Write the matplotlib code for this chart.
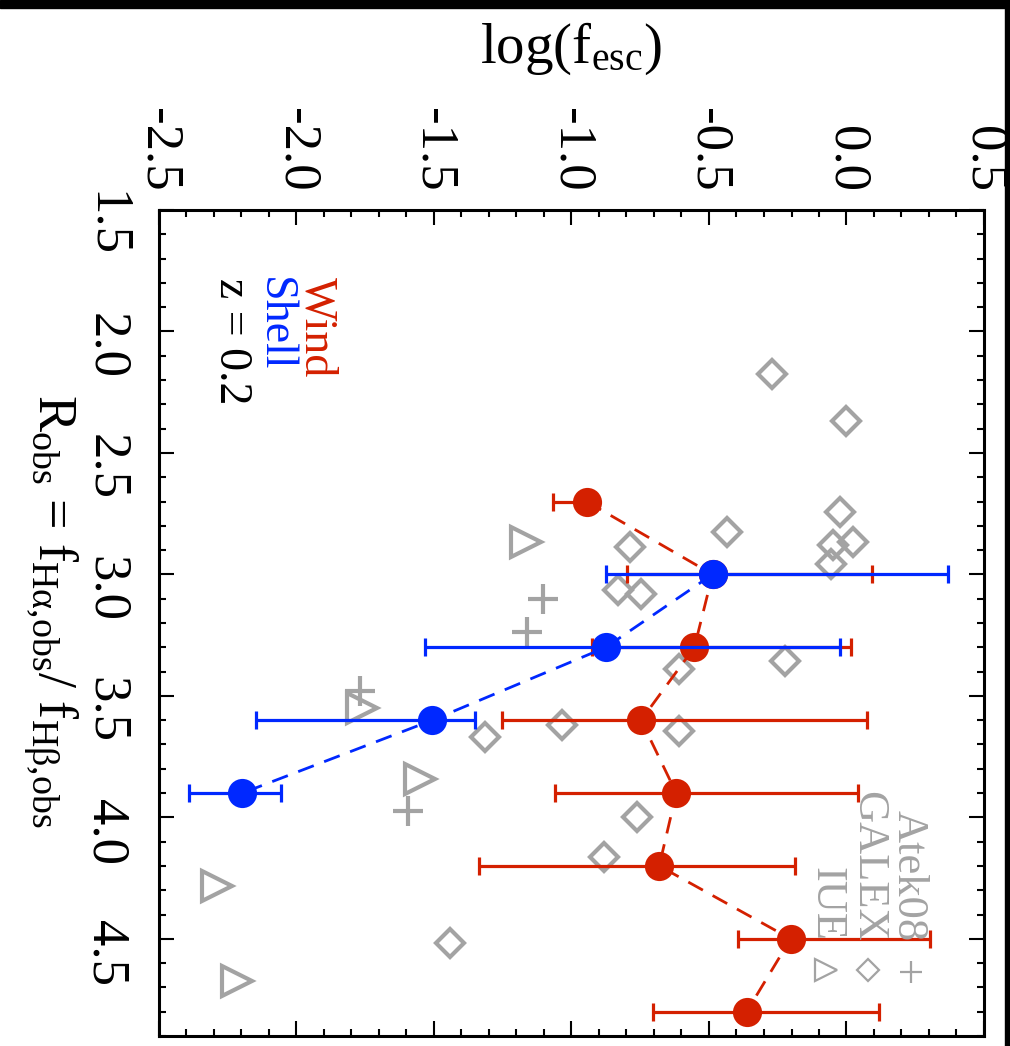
import matplotlib
matplotlib.use("Agg")
import matplotlib.pyplot as plt
from matplotlib.patches import Rectangle
from matplotlib.ticker import MultipleLocator

plt.rcParams['font.family'] = ['Liberation Serif', 'DejaVu Serif']
plt.rcParams['mathtext.fontset'] = 'custom'
plt.rcParams['mathtext.rm'] = 'Liberation Serif'
plt.rcParams['mathtext.it'] = 'Liberation Serif:italic'

RED = '#d42000'
BLUE = '#0028ff'
GRAY = '#a3a3a3'

# wind model (red)
wind_R = [2.7, 3.0, 3.3, 3.6, 3.9, 4.2, 4.5, 4.8]
wind_f = [-0.945, -0.487, -0.553, -0.747, -0.619, -0.681, -0.203, -0.363]
wind_lo = [0.121, 0.31, 0.374, 0.507, 0.441, 0.654, 0.19, 0.339]
wind_hi = [0.0, 0.58, 0.568, 0.82, 0.66, 0.494, 0.507, 0.482]

# shell model (blue)
shell_R = [3.0, 3.3, 3.6, 3.9]
shell_f = [-0.487, -0.875, -1.506, -2.197]
shell_lo = [0.388, 0.658, 0.641, 0.194]
shell_hi = [0.857, 0.851, 0.155, 0.141]

# observations
atek_R = [3.100, 3.236, 3.480, 3.973]
atek_f = [-1.103, -1.160, -1.769, -1.593]

galex_R = [2.174, 2.370, 2.744, 2.866, 2.877, 2.959, 2.825, 2.886, 3.065,
           3.080, 3.356, 3.391, 3.620, 3.644, 4.000, 4.162, 3.671, 4.518]
galex_f = [-0.270, 0.000, -0.024, 0.025, -0.048, -0.058, -0.433, -0.787, -0.830,
           -0.749, -0.224, -0.609, -1.033, -0.609, -0.763, -0.881, -1.315, -1.442]

iue_R = [2.866, 3.548, 3.843, 4.284, 4.672]
iue_f = [-1.165, -1.761, -1.550, -2.289, -2.217]

W, H = 1010, 1046
fig = plt.figure(figsize=(W / 100, H / 100), dpi=100)
ax = fig.add_axes([159 / W, 1 - 1036 / H, 825 / W, 826 / H])

def px(x, y):
    # pixel position -> axes fraction
    return (x - 159) / 825, 1 - (y - 210) / 826

# gray observational points
ax.plot(atek_f, atek_R, ls='none', marker='+', ms=21, mew=3, color=GRAY, zorder=2)
ax.plot(galex_f, galex_R, ls='none', marker='D', ms=14.5, mew=3, mfc='none', mec=GRAY, zorder=2)
ax.plot(iue_f, iue_R, ls='none', marker='>', ms=21, mew=3, mfc='none', mec=GRAY, zorder=2)

# wind
ax.errorbar(wind_f, wind_R, xerr=[wind_lo, wind_hi], fmt='none', ecolor=RED,
            elinewidth=2.3, capsize=6.5, capthick=2.3, zorder=3)
ax.plot(wind_f, wind_R, color=RED, lw=2, dashes=(6, 4), zorder=3)
ax.plot(wind_f, wind_R, ls='none', marker='o', ms=21, mew=0, color=RED, zorder=4)

# shell
ax.errorbar(shell_f, shell_R, xerr=[shell_lo, shell_hi], fmt='none', ecolor=BLUE,
            elinewidth=2.3, capsize=6.5, capthick=2.3, zorder=5)
ax.plot(shell_f, shell_R, color=BLUE, lw=2, dashes=(6, 4), zorder=5)
ax.plot(shell_f, shell_R, ls='none', marker='o', ms=21, mew=0, color=BLUE, zorder=6)

ax.set_xlim(-2.5, 0.5)
ax.set_ylim(4.9, 1.5)
ax.xaxis.set_major_locator(MultipleLocator(0.5))
ax.xaxis.set_minor_locator(MultipleLocator(0.1))
ax.yaxis.set_major_locator(MultipleLocator(0.5))
ax.yaxis.set_minor_locator(MultipleLocator(0.1))
ax.xaxis.set_major_formatter(lambda v, p: f"{v:.1f}".replace('-0.0', '0.0'))
ax.yaxis.set_major_formatter(lambda v, p: f"{v:.1f}")
ax.tick_params(which='both', direction='in', top=True, bottom=True, left=True, right=True,
               labeltop=True, labelbottom=False, labelleft=True, labelright=False,
               width=1.5, labelsize=38)
ax.tick_params(which='major', length=11)
ax.tick_params(which='minor', length=5)
ax.tick_params(axis='x', labelrotation=-90, pad=13)
ax.tick_params(axis='y', labelrotation=-90, pad=21)
for s in ax.spines.values():
    s.set_linewidth(2.2)

fig.text(571 / W, 1 - 63 / H, r"log(f$_{\rm esc}$)", fontsize=41, ha='center', va='baseline')
fig.text(50 / W, 1 - 611 / H, r"R$_{\rm obs}$ = f$_{\rm H\alpha{,}obs}$/ f$_{\rm H\beta{,}obs}$",
         fontsize=39, rotation=-90, ha='center', va='center')

# model legend
for label, color, (x, y) in [("Wind", RED, (305, 277)), ("Shell", BLUE, (263, 277)),
                             ("z = 0.2", 'black', (220, 278))]:
    ax.text(*px(x, y), label, color=color, fontsize=33, rotation=-90,
            rotation_mode='anchor', ha='left', va='baseline', transform=ax.transAxes)

# observation legend
for label, (x, y) in [("Atek08", (898, 941)), ("GALEX", (857, 942)), ("IUE", (815, 941))]:
    ax.text(*px(x, y), label, color=GRAY, fontsize=32, rotation=-90,
            rotation_mode='anchor', ha='right', va='baseline', transform=ax.transAxes)
ax.plot(*px(911, 972), marker='+', ms=16, mew=1.6, color=GRAY, transform=ax.transAxes)
ax.plot(*px(868, 970), marker='D', ms=11, mew=1.6, mfc='none', mec=GRAY, transform=ax.transAxes)
ax.plot(*px(826, 970), marker='>', ms=16, mew=1.6, mfc='none', mec=GRAY, transform=ax.transAxes)

# black frame edges
fig.add_artist(Rectangle((0, 1 - 7.5 / H), 1, 7.5 / H, transform=fig.transFigure, color='black'))
fig.add_artist(Rectangle((1005 / W, 0), 5 / W, 1, transform=fig.transFigure, color='black'))

fig.savefig('out.png', dpi=100)
